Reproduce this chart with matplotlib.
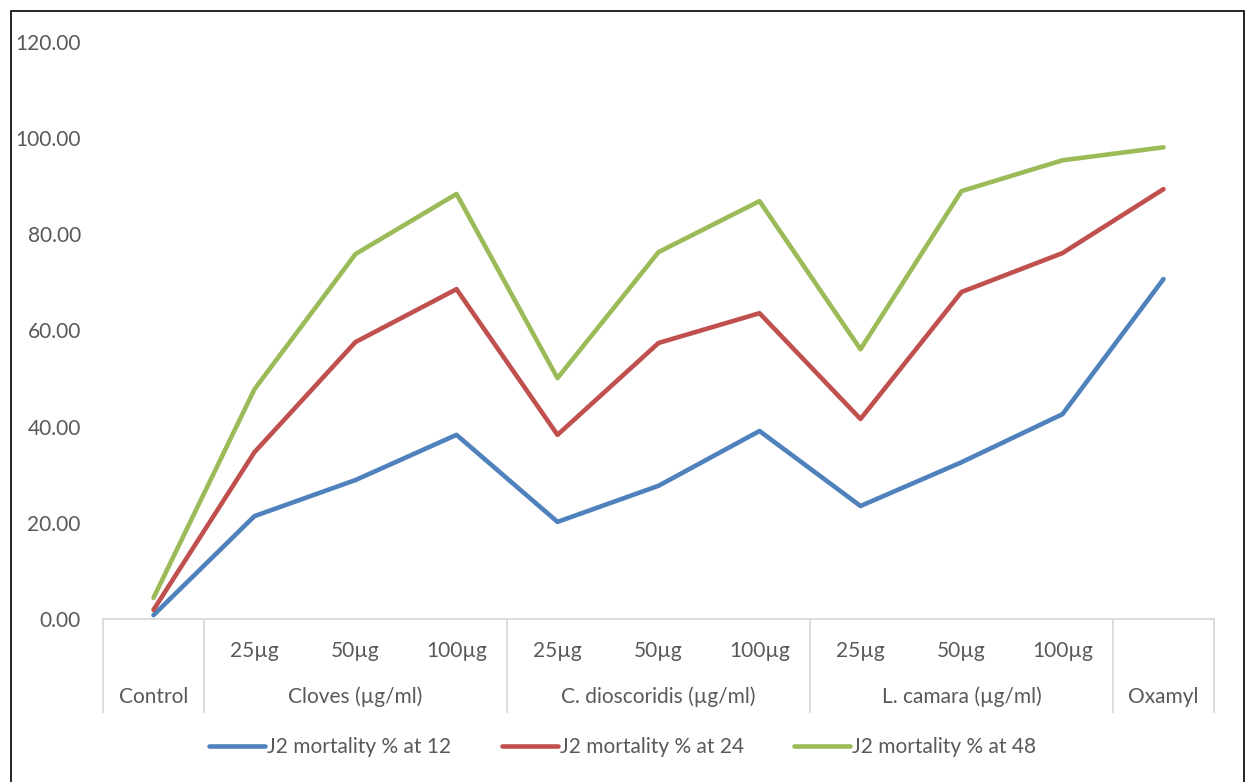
import numpy as np
import matplotlib
matplotlib.use("Agg")
import matplotlib.pyplot as plt
from matplotlib.patches import Rectangle

plt.rcParams['font.family'] = ['Lato', 'DejaVu Sans']

# doses within each treatment group, and the groups themselves
doses = ['', '25µg', '50µg', '100µg', '25µg', '50µg', '100µg', '25µg', '50µg', '100µg', '']
groups = ['Control', 'Cloves (µg/ml)', 'C. dioscoridis (µg/ml)', 'L. camara (µg/ml)', 'Oxamyl']
group_sizes = [1, 3, 3, 3, 1]

mort_12 = [0.8, 21.4, 28.9, 38.3, 20.2, 27.7, 39.1, 23.5, 32.6, 42.6, 70.7]
mort_24 = [1.9, 34.7, 57.6, 68.6, 38.3, 57.4, 63.6, 41.6, 68.0, 76.1, 89.4]
mort_48 = [4.4, 47.8, 75.9, 88.4, 50.1, 76.3, 86.9, 56.1, 89.0, 95.4, 98.1]

series = [('J2 mortality % at 12', mort_12, '#4F81BD'),
          ('J2 mortality % at 24', mort_24, '#C0504D'),
          ('J2 mortality % at 48', mort_48, '#9BBB59')]

txt = '#595959'
grid = '#D9D9D9'
fs = 15

fig = plt.figure(figsize=(12.48, 7.82), dpi=100)
W, H = 1248, 782
ax = fig.add_axes([103 / W, (H - 619) / H, (1214 - 103) / W, (619 - 42) / H])

x = np.arange(len(doses)) + 0.5
for name, vals, col in series:
    ax.plot(x, vals, color=col, lw=3.3, solid_capstyle='round',
            solid_joinstyle='round', label=name)

ax.set_xlim(0, len(doses))
ax.set_ylim(0, 120)
ax.set_yticks(np.arange(0, 121, 20))
ax.set_yticklabels(['%.2f' % v for v in np.arange(0, 121, 20)])
ax.tick_params(axis='y', length=0, pad=16, labelsize=fs, labelcolor=txt)
ax.set_xticks([])
for s in ['top', 'right', 'left']:
    ax.spines[s].set_visible(False)
ax.spines['bottom'].set_color(grid)
ax.spines['bottom'].set_linewidth(1.3)

# two-level category axis
tr = ax.get_xaxis_transform()
depth = 93 / 577
edges = np.concatenate([[0], np.cumsum(group_sizes)])
for e in edges:
    ax.plot([e, e], [0, -depth], color=grid, lw=1.3, transform=tr, clip_on=False)
for xi, d in zip(x, doses):
    if d:
        ax.text(xi, -32 / 577, d, transform=tr, ha='center', va='center',
                fontsize=fs, color=txt)
for i, g in enumerate(groups):
    cx = (edges[i] + edges[i + 1]) / 2
    ax.text(cx, -78 / 577, g, transform=tr, ha='center', va='center',
            fontsize=fs, color=txt)

leg = fig.legend(loc='center', bbox_to_anchor=(0.499, (H - 747) / H), ncol=3,
                 frameon=False, fontsize=fs, handlelength=2.7, handletextpad=0.1,
                 columnspacing=2.4, labelcolor=txt)

# outer chart frame
fig.patches.append(Rectangle((11 / W, -0.01), (1244 - 11) / W, (H - 11) / H + 0.01,
                             transform=fig.transFigure, fill=False,
                             edgecolor='black', lw=1.2))

fig.savefig('out.png', dpi=100)
